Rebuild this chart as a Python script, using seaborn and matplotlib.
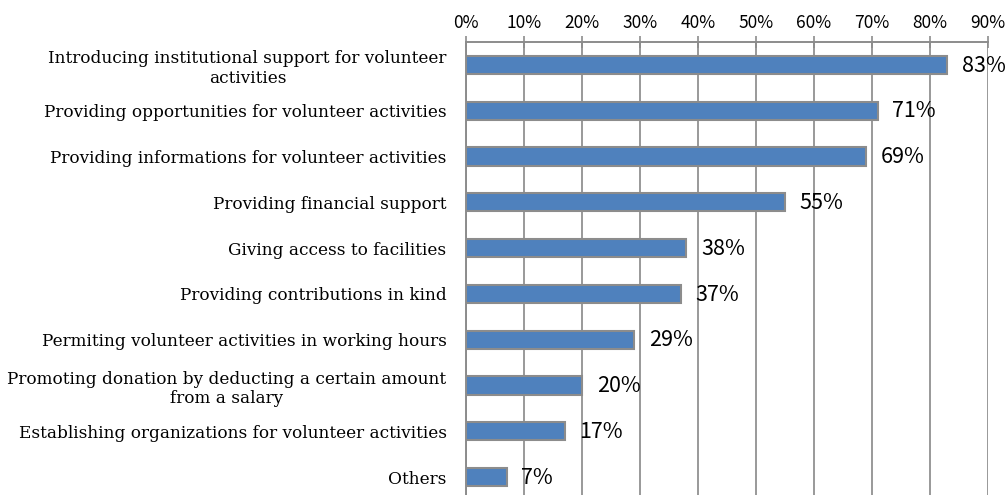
import matplotlib
matplotlib.use("Agg")
import matplotlib.pyplot as plt
from matplotlib.ticker import FixedLocator, PercentFormatter
import seaborn as sns
import pandas as pd

categories = [
    "Introducing institutional support for volunteer\nactivities",
    "Providing opportunities for volunteer activities",
    "Providing informations for volunteer activities",
    "Providing financial support",
    "Giving access to facilities",
    "Providing contributions in kind",
    "Permiting volunteer activities in working hours",
    "Promoting donation by deducting a certain amount\nfrom a salary",
    "Establishing organizations for volunteer activities",
    "Others",
]
shares = [83, 71, 69, 55, 38, 37, 29, 20, 17, 7]
x_ticks = [0, 10, 20, 30, 40, 50, 60, 70, 80, 90]

df = pd.DataFrame({"category": categories, "share": shares})

sns.set_style("white")
plt.rcParams["font.family"] = ["Noto Sans CJK JP", "DejaVu Sans"]
plt.rcParams["text.color"] = "black"

fig = plt.figure(figsize=(10.05, 4.95), dpi=100)
ax = fig.add_axes([0.4637, -0.0101, 0.5194, 0.9252])

sns.barplot(data=df, y="category", x="share", orient="h", ax=ax,
            color="#4F81BD", saturation=1, width=0.40,
            edgecolor="#8C8C8C", linewidth=1.5, zorder=3)

ax.set_xlim(0, 90)
ax.set_ylim(len(categories) - 0.5, -0.5)
ax.set_xlabel("")
ax.set_ylabel("")

# percentage axis across the top
ax.xaxis.set_ticks_position("top")
ax.xaxis.set_label_position("top")
ax.set_xticks(x_ticks)
ax.xaxis.set_major_formatter(PercentFormatter(decimals=0))
ax.tick_params(axis="x", which="major", direction="inout", length=8,
               width=1.2, color="#8C8C8C", labelsize=12.5, pad=3,
               labelcolor="black")
ax.grid(axis="x", color="#999999", linewidth=1.4, zorder=0)
ax.grid(axis="y", visible=False)

# category axis: labels centred on bars, ticks between categories
ax.tick_params(axis="y", which="major", length=0, pad=14, labelcolor="black")
ax.yaxis.set_minor_locator(FixedLocator([i + 0.5 for i in range(-1, len(categories))]))
ax.tick_params(axis="y", which="minor", direction="out", length=5,
               width=1.2, color="#8C8C8C")
for lab in ax.get_yticklabels():
    lab.set_fontfamily("DejaVu Serif")
    lab.set_fontsize(12.2)
    lab.set_multialignment("center")

for side in ["right", "bottom"]:
    ax.spines[side].set_visible(False)
for side in ["left", "top"]:
    ax.spines[side].set_color("#8C8C8C")
    ax.spines[side].set_linewidth(1.4)
    ax.spines[side].set_zorder(4)

# value labels right of each bar
for i, v in enumerate(shares):
    ax.annotate(f"{v}%", xy=(v, i), xytext=(10.5, -0.5), textcoords="offset points",
                ha="left", va="center", fontsize=15.5, color="black",
                annotation_clip=False)

fig.savefig("out.png", dpi=100)
